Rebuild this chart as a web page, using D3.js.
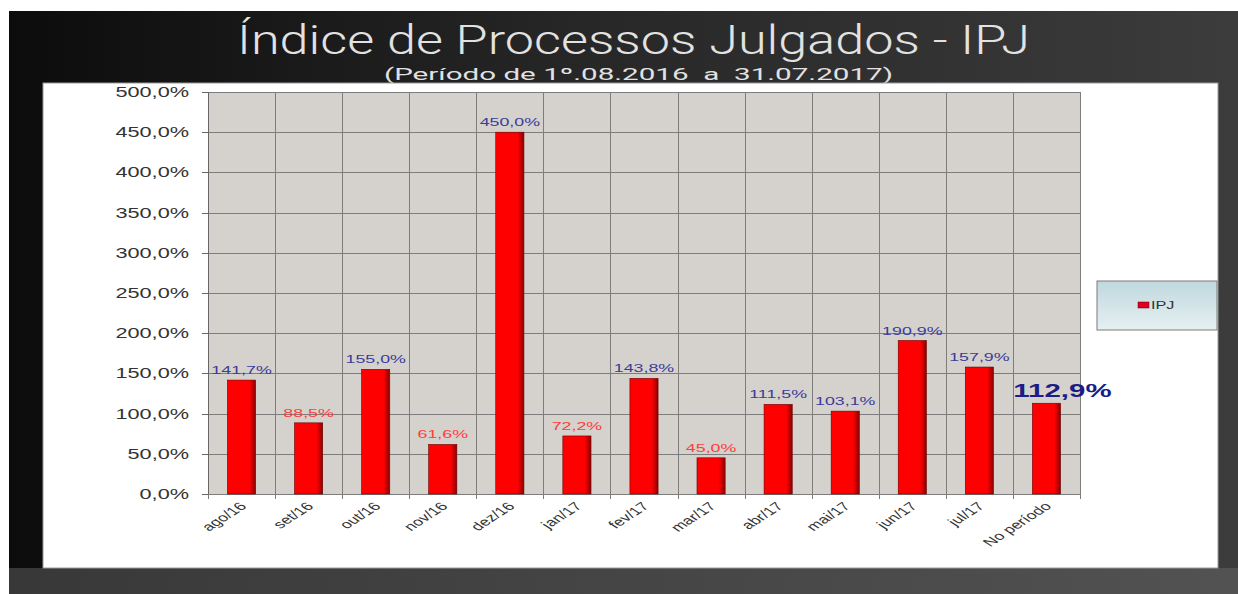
<!DOCTYPE html>
<html>
<head>
<meta charset="utf-8">
<script src="https://cdn.jsdelivr.net/npm/d3@7"></script>
<style>
  body { margin: 0; background: #fff; }
  svg { display: block; }
</style>
</head>
<body>
<script>
const categories = ['ago/16', 'set/16', 'out/16', 'nov/16', 'dez/16', 'jan/17', 'fev/17',
  'mar/17', 'abr/17', 'mai/17', 'jun/17', 'jul/17', 'No período'];
const ipjValues = [141.7, 88.5, 155.0, 61.6, 450.0, 72.2, 143.8, 45.0, 111.5, 103.1, 190.9, 157.9, 112.9];
const yTicks = [0, 50, 100, 150, 200, 250, 300, 350, 400, 450, 500];
const seriesName = 'IPJ';
const titleText = 'Índice de Processos Julgados - IPJ';
const subtitleText = '(Período de 1º.08.2016  a  31.07.2017)';

const W = 1238, H = 594;
const SX = 1.55; // the original picture is stretched sideways
const plot = { left: 208, right: 1080, top: 92, bottom: 494 };

const ptBR = d3.formatLocale({ decimal: ',', thousands: '.', grouping: [3], currency: ['R$', ''] });
const pct = v => ptBR.format('.1f')(v) + '%';

const svg = d3.select('body').append('svg')
  .attr('width', W)
  .attr('height', H);

const defs = svg.append('defs');

const bg = defs.append('linearGradient').attr('id', 'bg').attr('x1', 0).attr('x2', 1).attr('y1', 0).attr('y2', 0);
bg.append('stop').attr('offset', 0).attr('stop-color', '#0c0c0c');
bg.append('stop').attr('offset', 0.45).attr('stop-color', '#262626');
bg.append('stop').attr('offset', 1).attr('stop-color', '#3c3c3c');

const bgBottom = defs.append('linearGradient').attr('id', 'bgBottom').attr('x1', 0).attr('x2', 1).attr('y1', 0).attr('y2', 0);
bgBottom.append('stop').attr('offset', 0).attr('stop-color', '#383838');
bgBottom.append('stop').attr('offset', 1).attr('stop-color', '#525252');

const barGrad = defs.append('linearGradient').attr('id', 'barGrad').attr('x1', 0).attr('x2', 1).attr('y1', 0).attr('y2', 0);
barGrad.append('stop').attr('offset', 0).attr('stop-color', '#ff0000');
barGrad.append('stop').attr('offset', 0.78).attr('stop-color', '#ff0000');
barGrad.append('stop').attr('offset', 1).attr('stop-color', '#8a0000');

const legGrad = defs.append('linearGradient').attr('id', 'legGrad').attr('x1', 0).attr('x2', 0).attr('y1', 0).attr('y2', 1);
legGrad.append('stop').attr('offset', 0).attr('stop-color', '#bfd8de');
legGrad.append('stop').attr('offset', 1).attr('stop-color', '#e6f0f2');

// slide background
svg.append('rect').attr('x', 9).attr('y', 11).attr('width', W - 9).attr('height', H - 11).style('fill', 'url(#bg)');
svg.append('rect').attr('x', 9).attr('y', 568).attr('width', W - 9).attr('height', H - 568).style('fill', 'url(#bgBottom)');

// title
svg.append('text')
  .attr('x', 237).attr('y', 54)
  .attr('textLength', 793).attr('lengthAdjust', 'spacingAndGlyphs')
  .style('font-family', 'Roboto, "Liberation Sans", sans-serif')
  .style('font-weight', 300)
  .style('font-size', '41px')
  .style('fill', '#e2e2e2')
  .text(titleText);

svg.append('text')
  .attr('x', 384).attr('y', 80)
  .attr('textLength', 509).attr('lengthAdjust', 'spacingAndGlyphs')
  .style('white-space', 'pre')
  .style('font-family', 'Roboto, "Liberation Sans", sans-serif')
  .style('font-size', '17px')
  .style('fill', '#e2e2e2')
  .text(subtitleText);

// white chart panel
svg.append('rect').attr('x', 43).attr('y', 83).attr('width', 1175).attr('height', 485)
  .style('fill', '#fff').style('stroke', '#9a9a9a').style('stroke-width', 1);

const x = d3.scaleBand()
  .domain(categories)
  .range([plot.left, plot.right])
  .paddingInner(0.58)
  .paddingOuter(0.29);

const y = d3.scaleLinear()
  .domain([0, 500])
  .range([plot.bottom, plot.top]);

const chart = svg.append('g').attr('class', 'chart');

chart.append('rect')
  .attr('x', plot.left).attr('y', plot.top)
  .attr('width', plot.right - plot.left).attr('height', plot.bottom - plot.top)
  .style('fill', '#d5d2cd');

// horizontal gridlines
chart.append('g').selectAll('line')
  .data(yTicks)
  .join('line')
  .attr('x1', plot.left).attr('x2', plot.right)
  .attr('y1', d => Math.round(y(d)) + 0.5).attr('y2', d => Math.round(y(d)) + 0.5)
  .style('stroke', '#7d7d7d').style('stroke-width', 1);

// vertical gridlines at category boundaries
const step = x.step();
const boundaries = categories.map(c => x(c) - step * x.paddingInner() / 2).concat([plot.right]);
chart.append('g').selectAll('line')
  .data(boundaries)
  .join('line')
  .attr('x1', d => Math.round(d) + 0.5).attr('x2', d => Math.round(d) + 0.5)
  .attr('y1', plot.top).attr('y2', plot.bottom + 5)
  .style('stroke', '#7d7d7d').style('stroke-width', 1);

// y axis
chart.append('line')
  .attr('x1', plot.left + 0.5).attr('x2', plot.left + 0.5)
  .attr('y1', plot.top).attr('y2', plot.bottom)
  .style('stroke', '#666');

chart.append('g').selectAll('line')
  .data(yTicks)
  .join('line')
  .attr('x1', plot.left - 6).attr('x2', plot.left)
  .attr('y1', d => Math.round(y(d)) + 0.5).attr('y2', d => Math.round(y(d)) + 0.5)
  .style('stroke', '#666');

chart.append('g').selectAll('text')
  .data(yTicks)
  .join('text')
  .attr('transform', d => `translate(189,${y(d) + 5}) scale(${SX},1)`)
  .attr('text-anchor', 'end')
  .style('font-family', '"Liberation Sans", Arial, sans-serif')
  .style('font-size', '14px')
  .style('fill', '#333')
  .text(pct);

// x labels
chart.append('g').selectAll('text')
  .data(categories)
  .join('text')
  .attr('transform', d => `translate(${x(d) + x.bandwidth() / 2 + 6},${plot.bottom + 13}) scale(${SX},1) rotate(-45)`)
  .attr('text-anchor', 'end')
  .style('font-family', '"Liberation Sans", Arial, sans-serif')
  .style('font-size', '11.5px')
  .style('fill', '#333')
  .text(d => d);

// bars
const rows = categories.map((c, i) => ({ cat: c, value: ipjValues[i], last: i === categories.length - 1 }));

chart.append('g').selectAll('rect')
  .data(rows)
  .join('rect')
  .attr('x', d => x(d.cat))
  .attr('y', d => y(d.value))
  .attr('width', x.bandwidth())
  .attr('height', d => y(0) - y(d.value))
  .style('fill', 'url(#barGrad)')
  .style('stroke', '#6b0000')
  .style('stroke-width', 0.6);

// value labels
chart.append('g').selectAll('text')
  .data(rows)
  .join('text')
  .attr('transform', d => `translate(${x(d.cat) + x.bandwidth() / 2 + (d.last ? 16 : 0)},${y(d.value) - 6}) scale(${SX},1)`)
  .attr('text-anchor', 'middle')
  .style('font-family', '"Liberation Sans", Arial, sans-serif')
  .style('font-size', d => d.last ? '19px' : '11.5px')
  .style('font-weight', d => d.last ? 'bold' : 'normal')
  .style('fill', d => d.last ? '#1c1c86' : (d.value < 100 ? '#ff3c3c' : '#3b3b9a'))
  .text(d => pct(d.value));

// legend
const legend = svg.append('g').attr('class', 'legend');
legend.append('rect')
  .attr('x', 1097).attr('y', 281).attr('width', 120).attr('height', 49)
  .style('fill', 'url(#legGrad)').style('stroke', '#7a7a7a').style('stroke-width', 1);
legend.append('rect')
  .attr('x', 1138).attr('y', 302).attr('width', 11).attr('height', 6)
  .style('fill', '#e00020').style('stroke', '#600').style('stroke-width', 0.5);
legend.append('text')
  .attr('transform', `translate(1151,309) scale(${SX},1)`)
  .style('font-family', '"Liberation Sans", Arial, sans-serif')
  .style('font-size', '10.5px')
  .style('fill', '#333')
  .text(seriesName);
</script>
</body>
</html>
